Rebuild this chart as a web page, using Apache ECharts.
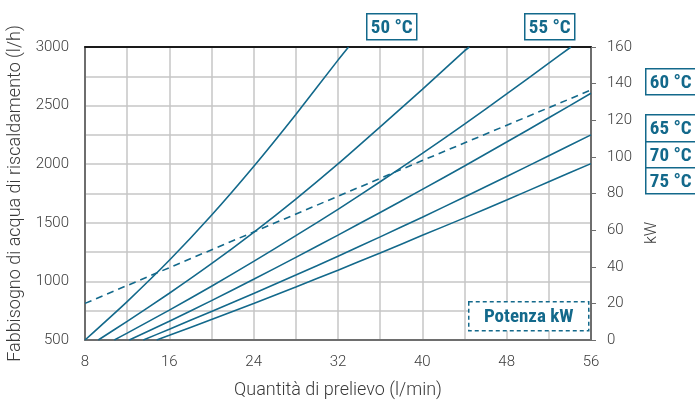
<!DOCTYPE html>
<html>
<head>
<meta charset="utf-8">
<script src="https://cdn.jsdelivr.net/npm/echarts@6/dist/echarts.min.js"></script>
<style>
html,body{margin:0;padding:0;background:#fff;}
#chart{width:695px;height:401px;}
</style>
</head>
<body>
<div id="chart"></div>
<script>
// Data
var xTicks = [8, 16, 24, 32, 40, 48, 56];
var leftTicks = [500, 1000, 1500, 2000, 2500, 3000];
var rightTicks = [0, 20, 40, 60, 80, 100, 120, 140, 160];

var t50 = [[8,500],[12,828],[16,1180],[20,1564],[24,1980],[28,2424],[32,2888],[33,3000]];
var t55 = [[9.26,500],[12,659],[16,899],[20,1151],[24,1419],[28,1703],[32,2003],[36,2319],[40,2639],[44,2967],[44.45,3000]];
var t60 = [[10.78,500],[12,559],[16,755],[20,959],[24,1171],[28,1390],[32,1615],[36,1850],[40,2092],[44,2342],[48,2600],[52,2862],[54.1,3000]];
var t65 = [[12.2,500],[16,660],[20,836],[24,1018],[28,1205],[32,1395],[36,1588],[40,1785],[44,1985],[48,2189],[52,2396],[56,2605]];
var t70 = [[13.53,500],[16,592],[20,744],[24,897],[28,1054],[32,1215],[36,1380],[40,1548],[44,1720],[48,1895],[52,2072],[56,2250]];
var t75 = [[14.8,500],[16,540],[20,675],[24,812],[28,952],[32,1096],[36,1243],[40,1393],[44,1542],[48,1695],[52,1850],[56,2005]];
var powerKW = [[8,20],[24,59],[40,98],[56,136.5],[57,139]];

var seriesNames = ['50 °C','55 °C','60 °C','65 °C','70 °C','75 °C'];
var seriesData = [t50, t55, t60, t65, t70, t75];

var TEAL = '#13698b';
var TXT = '#3a3a3a';
var FONT = 'Roboto';
var BOXFONT = '"Liberation Sans Narrow", "Roboto Condensed", Roboto';

var chart = echarts.init(document.getElementById('chart'), null, {renderer:'canvas'});

var series = seriesData.map(function(d, i){
  return {
    name: seriesNames[i], type: 'line', data: d, xAxisIndex: 0, yAxisIndex: 0,
    showSymbol: false, smooth: 0.2,
    lineStyle: {color: TEAL, width: 1.6}, itemStyle:{color:TEAL}, z: 3
  };
});
series.push({
  name: 'Potenza kW', type: 'line', data: powerKW, xAxisIndex: 0, yAxisIndex: 1,
  showSymbol: false, clip: false,
  lineStyle: {color: TEAL, width: 1.6, type: [7, 5]}, z: 3
});

function box(x, y, w, h, text, dashed){
  return {
    type: 'group', left: x, top: y, z: 100,
    children: [
      {type:'rect', z: 100, shape:{x:0,y:0,width:w,height:h},
       style:{fill:'#fff', stroke:TEAL, lineWidth:1.5, lineDash: dashed ? [4,3] : null}},
      {type:'text', z: 101, x: w/2, y: h/2 + 1,
       style:{text:text, fill:TEAL, font:'bold 19px ' + BOXFONT, textAlign:'center', textVerticalAlign:'middle'}}
    ]
  };
}

var option = {
  animation: false,
  backgroundColor: '#fff',
  grid: {left: 85, right: 104, top: 47, bottom: 61, containLabel: false, outerBoundsMode: 'none'},
  xAxis: [{
    type: 'value', min: 8, max: 56, interval: 4,
    name: 'Quantità di prelievo (l/min)', nameLocation: 'middle', nameGap: 41,
    nameTextStyle: {color: TXT, fontSize: 18, fontFamily: FONT, fontWeight: 300},
    axisLine: {show: true, lineStyle: {color: '#6e6e6e', width: 2}},
    axisTick: {show: false},
    axisLabel: {color: TXT, fontSize: 15, fontFamily: FONT, fontWeight: 300, margin: 15,
      formatter: function(v){ return xTicks.indexOf(v) >= 0 ? String(v) : ''; }},
    splitLine: {show: true, lineStyle: {color: '#c6c6c6', width: 1.5}}
  },{
    type: 'value', min: 8, max: 56, position: 'top',
    axisLine: {show: true, onZero: false, lineStyle: {color: '#1a1a1a', width: 2}},
    axisTick: {show: false}, axisLabel: {show: false}, splitLine: {show: false}
  }],
  yAxis: [{
    type: 'value', min: 500, max: 3000, interval: 250, position: 'left',
    name: 'Fabbisogno di acqua di riscaldamento (l/h)', nameLocation: 'middle', nameGap: 60,
    nameTextStyle: {color: TXT, fontSize: 18, fontFamily: FONT, fontWeight: 300},
    axisLine: {show: true, onZero: false, lineStyle: {color: '#6e6e6e', width: 2}},
    axisTick: {show: false},
    axisLabel: {color: TXT, fontSize: 15, fontFamily: FONT, fontWeight: 300, margin: 16,
      formatter: function(v){ return leftTicks.indexOf(v) >= 0 ? String(v) : ''; }},
    splitLine: {show: true, lineStyle: {color: '#c6c6c6', width: 1.5}}
  },{
    type: 'value', min: 0, max: 160, interval: 20, position: 'right',
    axisLine: {show: true, onZero: false, lineStyle: {color: '#6e6e6e', width: 2}},
    axisTick: {show: true, length: 5, lineStyle: {color: '#6e6e6e', width: 1}},
    axisLabel: {color: TXT, fontSize: 15, fontFamily: FONT, fontWeight: 300, margin: 16,
      formatter: function(v){ return rightTicks.indexOf(v) >= 0 ? String(v) : ''; }},
    splitLine: {show: false}
  }],
  series: series,
  graphic: [
    {type:'text', x: 652, y: 233, rotation: Math.PI/2, z: 100,
     style:{text:'kW', fill:TXT, font:'300 16px ' + FONT, textAlign:'center', textVerticalAlign:'middle'}},
    box(366, 13, 50, 26, '50 °C'),
    box(524, 13, 50, 26, '55 °C'),
    box(645, 68, 50, 26, '60 °C'),
    box(645, 114, 50, 27, '65 °C'),
    box(645, 141, 50, 26, '70 °C'),
    box(645, 167, 50, 26, '75 °C'),
    box(468, 301, 120, 29, 'Potenza kW', true)
  ]
};
chart.setOption(option);
</script>
</body>
</html>
